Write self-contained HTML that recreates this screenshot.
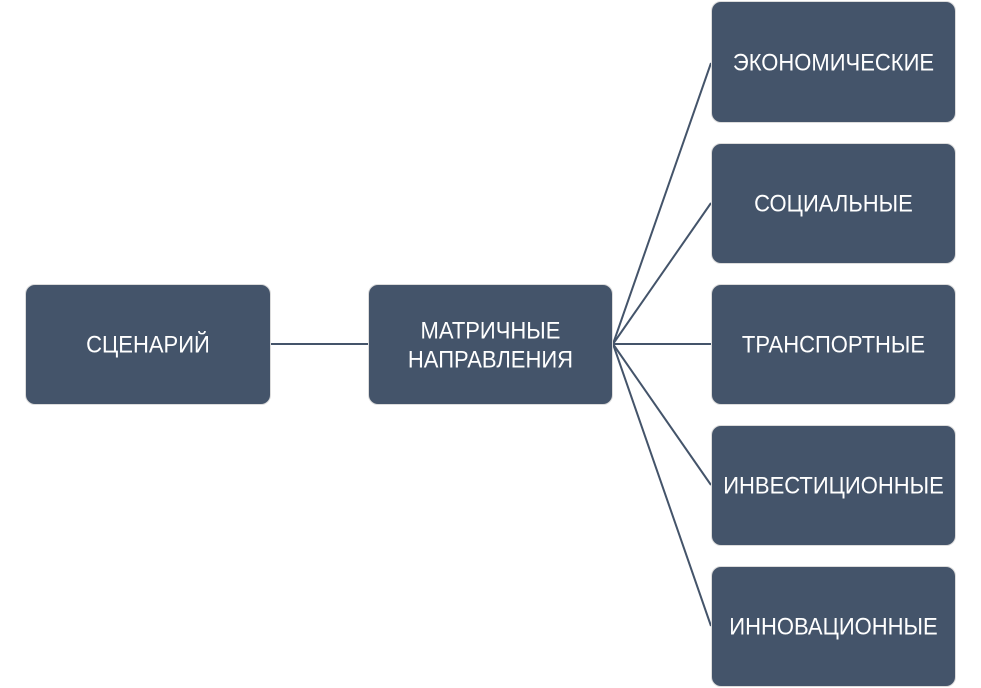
<!DOCTYPE html>
<html><head><meta charset="utf-8"><style>
body{margin:0;width:981px;height:688px;background:#fff;position:relative;overflow:hidden;font-family:"Liberation Sans",sans-serif}
.b{position:absolute;background:#44546a;border:1.5px solid #dcdcdc;border-radius:10px;box-sizing:border-box;color:#fff;font-size:22px;display:flex;align-items:center;justify-content:center;text-align:center;line-height:27px;white-space:nowrap}
.b span{display:inline-block;transform:scaleY(1.08)}
svg{position:absolute;left:0;top:0}
</style></head><body>
<svg width="981" height="688"><g stroke="#44546a" stroke-width="2" fill="none">
<line x1="270" y1="344" x2="368" y2="344"/>
<line x1="613" y1="344" x2="711" y2="63"/>
<line x1="613" y1="344" x2="711" y2="203"/>
<line x1="613" y1="344" x2="711" y2="344"/>
<line x1="613" y1="344" x2="711" y2="485"/>
<line x1="613" y1="344" x2="711" y2="626"/>
</g></svg>
<div class="b" style="left:25px;top:284px;width:246px;height:121px"><span>СЦЕНАРИЙ</span></div>
<div class="b" style="left:368px;top:284px;width:245px;height:121px"><span>МАТРИЧНЫЕ<br>НАПРАВЛЕНИЯ</span></div>
<div class="b" style="left:711px;top:1px;width:245px;height:122px"><span>ЭКОНОМИЧЕСКИЕ</span></div>
<div class="b" style="left:711px;top:143px;width:245px;height:121px"><span>СОЦИАЛЬНЫЕ</span></div>
<div class="b" style="left:711px;top:284px;width:245px;height:121px"><span>ТРАНСПОРТНЫЕ</span></div>
<div class="b" style="left:711px;top:425px;width:245px;height:121px"><span>ИНВЕСТИЦИОННЫЕ</span></div>
<div class="b" style="left:711px;top:566px;width:245px;height:121px"><span>ИННОВАЦИОННЫЕ</span></div>
</body></html>
